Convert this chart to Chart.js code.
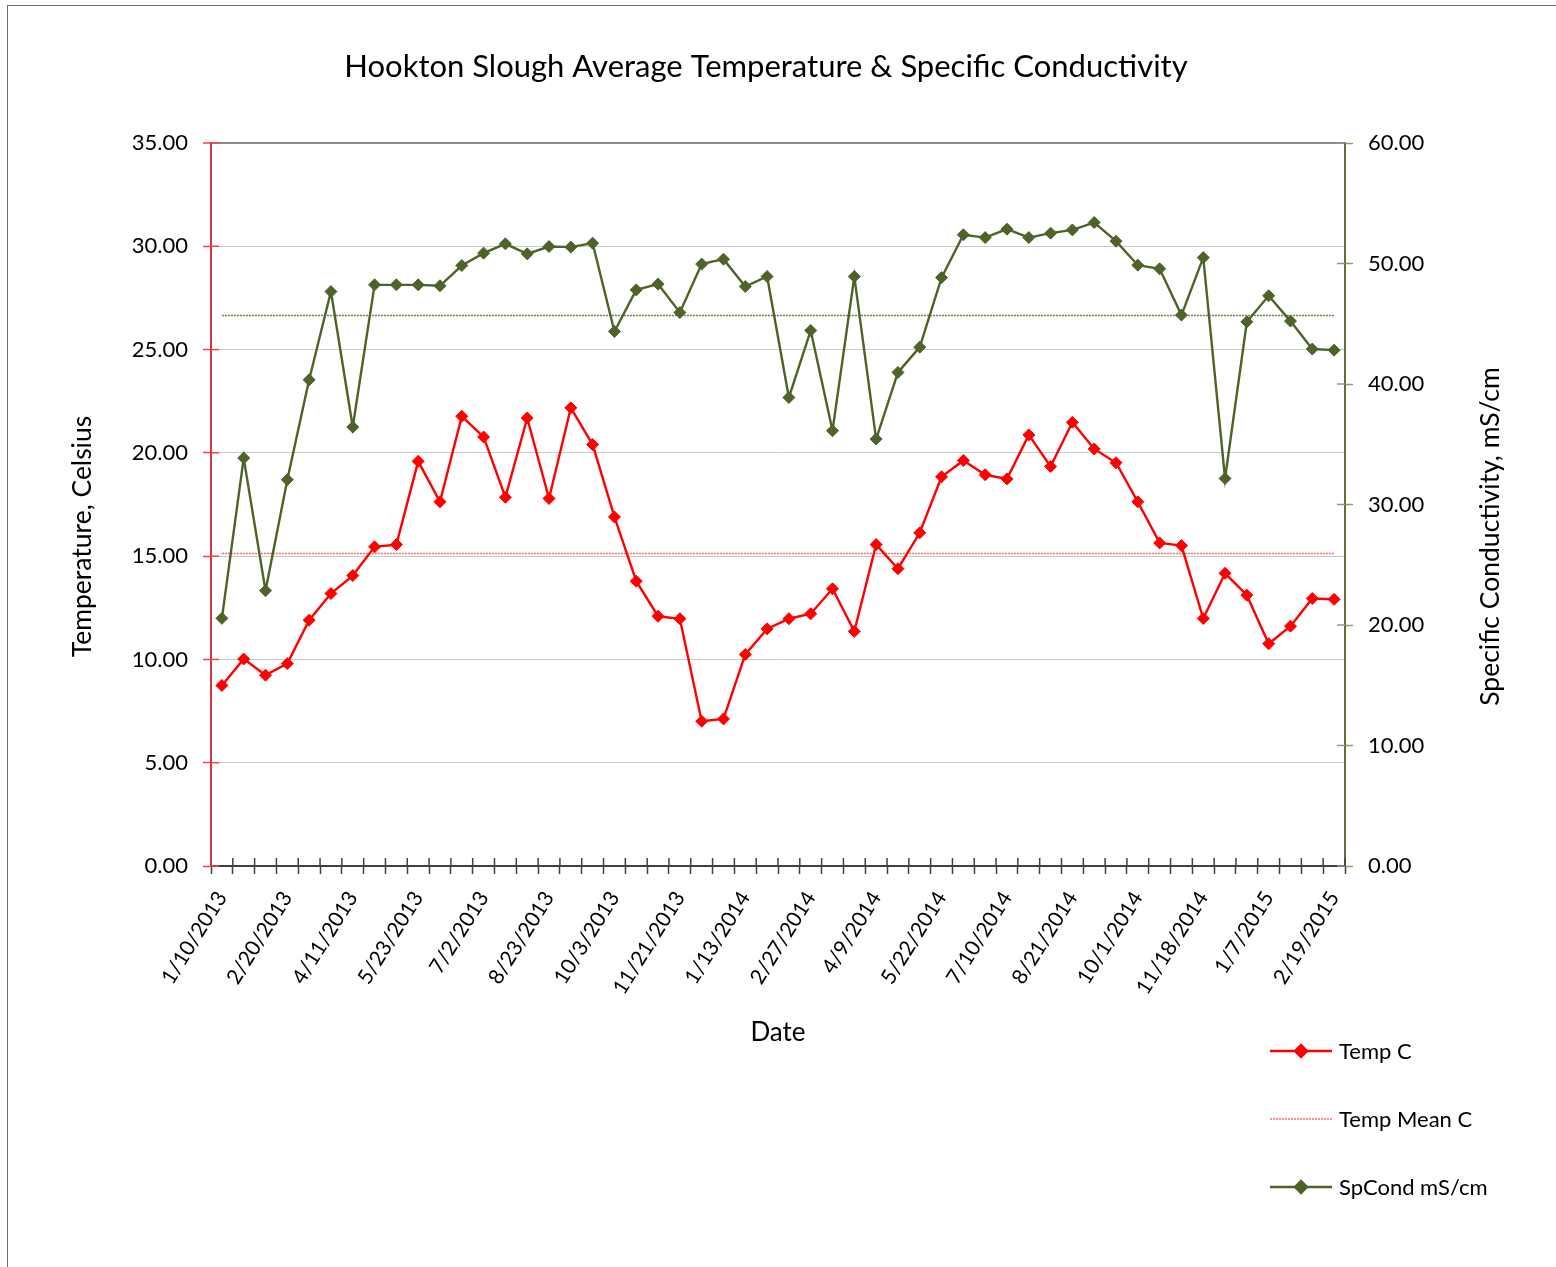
<!DOCTYPE html>
<html>
<head>
<meta charset="utf-8">
<title>Hookton Slough Average Temperature &amp; Specific Conductivity</title>
<script src="https://cdn.jsdelivr.net/npm/chart.js@4.4.1/dist/chart.umd.min.js"></script>
<style>
  html, body { margin: 0; padding: 0; background: #fff; overflow: hidden; }
  #wrap { position: relative; width: 1556px; height: 1267px; }
  #frame { position: absolute; left: 7px; top: 5px; width: 1600px; height: 1300px; border: 1px solid #6e6e6e; pointer-events: none; }
</style>
</head>
<body>
<div id="wrap">
  <canvas id="chart" width="1556" height="1267"></canvas>
  <div id="frame"></div>
</div>
<script>
// Hookton Slough sonde averages, one value per sampling date

const FONT = "Lato, 'Open Sans', sans-serif";
const TITLE = "Hookton Slough Average Temperature & Specific Conductivity";

// only every third date is printed on the axis
const tickLabels = [
  "1/10/2013", "2/20/2013", "4/11/2013", "5/23/2013", "7/2/2013", "8/23/2013",
  "10/3/2013", "11/21/2013", "1/13/2014", "2/27/2014", "4/9/2014", "5/22/2014",
  "7/10/2014", "8/21/2014", "10/1/2014", "11/18/2014", "1/7/2015", "2/19/2015",
];

const tempC = [
  8.74, 10.02, 9.24, 9.80, 11.90, 13.19, 14.06, 15.45, 15.56, 19.59,
  17.63, 21.77, 20.77, 17.85, 21.69, 17.79, 22.18, 20.40, 16.90, 13.79,
  12.09, 11.97, 7.01, 7.12, 10.24, 11.48, 11.97, 12.21, 13.42, 11.36,
  15.56, 14.39, 16.13, 18.84, 19.63, 18.94, 18.74, 20.87, 19.34, 21.48,
  20.19, 19.52, 17.63, 15.64, 15.51, 11.98, 14.17, 13.11, 10.76, 11.61,
  12.95, 12.91,
];

const spCond = [
  20.55, 33.86, 22.85, 32.06, 40.35, 47.67, 36.43, 48.23, 48.23, 48.23,
  48.15, 49.83, 50.86, 51.63, 50.80, 51.41, 51.36, 51.69, 44.36, 47.81,
  48.29, 45.93, 49.95, 50.36, 48.09, 48.92, 38.88, 44.44, 36.12, 48.92,
  35.43, 40.96, 43.06, 48.83, 52.38, 52.15, 52.85, 52.15, 52.52, 52.79,
  53.40, 51.85, 49.86, 49.56, 45.72, 50.49, 32.16, 45.16, 47.32, 45.22,
  42.90, 42.81,
];

const tempMean = 15.13;
const spCondMean = 45.68;

const RED = "#ff0000";
const GREEN = "#4f6228";

const categories = tempC.map((_, i) => (i % 3 === 0 ? tickLabels[i / 3] : ""));

// Excel style tick marks cross the axis line: draw the inner half here
const crossTicks = {
  id: "crossTicks",
  afterDraw(chart) {
    const { ctx, chartArea, scales } = chart;
    const len = 8;
    ctx.save();
    ctx.lineWidth = 1.5;
    ctx.strokeStyle = "#ff4040";
    scales.y.ticks.forEach((t) => {
      const y = scales.y.getPixelForValue(t.value);
      ctx.beginPath(); ctx.moveTo(chartArea.left, y); ctx.lineTo(chartArea.left + len, y); ctx.stroke();
    });
    ctx.strokeStyle = "#8e9e70";
    scales.y1.ticks.forEach((t) => {
      const y = scales.y1.getPixelForValue(t.value);
      ctx.beginPath(); ctx.moveTo(chartArea.right - len, y); ctx.lineTo(chartArea.right, y); ctx.stroke();
    });
    ctx.strokeStyle = "#404040";
    const n = categories.length;
    for (let i = 1; i <= n; i++) {
      const x = chartArea.left + (i * (chartArea.right - chartArea.left)) / n;
      ctx.beginPath(); ctx.moveTo(x, chartArea.bottom - len); ctx.lineTo(x, chartArea.bottom); ctx.stroke();
    }
    ctx.restore();
  },
};

// chart title sits a little left of the plot centre, like the Excel original;
// both value-axis titles read bottom to top, a bit below the plot centre
const chartTexts = {
  id: "chartTexts",
  afterDraw(chart) {
    const { ctx, chartArea } = chart;
    const cx = (chartArea.left + chartArea.right) / 2;
    const cy = (chartArea.top + chartArea.bottom) / 2 + 32;
    ctx.save();
    ctx.fillStyle = "#000";
    ctx.textAlign = "center";
    ctx.textBaseline = "middle";
    ctx.font = `31px ${FONT}`;
    ctx.fillText(TITLE, cx - 12, chartArea.top - 76);
    ctx.font = `26.5px ${FONT}`;
    [[chartArea.left - 129, "Temperature, Celsius"], [chartArea.right + 145, "Specific Conductivity, mS/cm"]]
      .forEach(([x, text]) => {
        ctx.save();
        ctx.translate(x, cy);
        ctx.rotate(-Math.PI / 2);
        ctx.fillText(text, 0, 0);
        ctx.restore();
      });
    ctx.restore();
  },
};

const sideLegend = {
  id: "sideLegend",
  afterDraw(chart) {
    const { ctx, chartArea } = chart;
    const items = chart.data.datasets
      .filter((d) => d.legendRow !== undefined)
      .sort((a, b) => a.legendRow - b.legendRow);
    ctx.save();
    ctx.font = `22px ${FONT}`;
    ctx.textBaseline = "middle";
    items.forEach((ds, k) => {
      const y = chartArea.bottom + 185 + k * 68;
      const x0 = chartArea.right - 75;
      ctx.strokeStyle = ds.borderColor;
      ctx.lineWidth = ds.borderWidth;
      ctx.setLineDash(ds.borderDash || []);
      ctx.beginPath(); ctx.moveTo(x0, y); ctx.lineTo(x0 + 62, y); ctx.stroke();
      ctx.setLineDash([]);
      if (ds.pointRadius > 0) {
        ctx.fillStyle = ds.pointBackgroundColor;
        ctx.strokeStyle = ds.pointBorderColor;
        Chart.helpers.drawPoint(ctx, { pointStyle: "rectRot", radius: ds.pointRadius, rotation: 0, borderWidth: 1 }, x0 + 31, y);
      }
      ctx.fillStyle = "#000";
      ctx.fillText(ds.label, x0 + 69, y + 1);
    });
    ctx.restore();
  },
};

new Chart(document.getElementById("chart"), {
  type: "line",
  data: {
    labels: categories,
    datasets: [
      {
        label: "Temp C",
        data: tempC,
        yAxisID: "y",
        borderColor: RED,
        borderWidth: 2.4,
        pointStyle: "rectRot",
        pointRadius: 6,
        pointBackgroundColor: RED,
        pointBorderColor: RED,
        pointBorderWidth: 1,
        tension: 0,
        legendRow: 0,
      },
      {
        label: "SpCond mS/cm",
        data: spCond,
        yAxisID: "y1",
        borderColor: GREEN,
        borderWidth: 2.4,
        pointStyle: "rectRot",
        pointRadius: 6,
        pointBackgroundColor: GREEN,
        pointBorderColor: GREEN,
        pointBorderWidth: 1,
        tension: 0,
        legendRow: 2,
      },
      {
        label: "Temp Mean C",
        data: tempC.map(() => tempMean),
        yAxisID: "y",
        borderColor: "#ff6a6a",
        borderWidth: 1.6,
        borderDash: [2, 1],
        pointRadius: 0,
        legendRow: 1,
      },
      {
        label: "SpCond Mean",
        data: spCond.map(() => spCondMean),
        yAxisID: "y1",
        borderColor: "#6d8248",
        borderWidth: 1.6,
        borderDash: [2, 1],
        pointRadius: 0,
      },
    ],
  },
  options: {
    responsive: false,
    animation: false,
    layout: { padding: { left: 0, right: 0, top: 143, bottom: 200 } },
    plugins: {
      legend: { display: false },
      tooltip: { enabled: false },
      title: { display: false },
    },
    scales: {
      x: {
        type: "category",
        offset: true,
        afterFit: (s) => { s.height = 201; },
        grid: { drawOnChartArea: false, offset: true, tickLength: 8, tickColor: "#404040", tickWidth: 1.5 },
        border: { color: "#404040", width: 2 },
        ticks: {
          autoSkip: false,
          minRotation: 58,
          maxRotation: 58,
          padding: 13,
          color: "#000",
          font: { family: FONT, size: 21 },
        },
        title: {
          display: true,
          text: "Date",
          color: "#000",
          font: { family: FONT, size: 26 },
          padding: { top: 0, bottom: 19 },
        },
      },
      y: {
        position: "left",
        min: 0,
        max: 35,
        afterFit: (s) => { s.width = 211; },
        grid: {
          color: (c) => (c.tick && c.tick.value === 35 ? "#8c8c8c" : "#cacaca"),
          lineWidth: (c) => (c.tick && c.tick.value === 35 ? 2 : 1),
          tickLength: 8,
          tickColor: "#ff4040",
          tickWidth: 1.5,
        },
        border: { color: "#c83c3c", width: 2 },
        ticks: {
          stepSize: 5,
          padding: 15,
          color: "#000",
          font: { family: FONT, size: 22 },
          callback: (v) => v.toFixed(2),
        },
      },
      y1: {
        position: "right",
        min: 0,
        max: 60,
        afterFit: (s) => { s.width = 211; },
        grid: { drawOnChartArea: false, tickLength: 8, tickColor: "#8e9e70", tickWidth: 1.5 },
        border: { color: "#5f7040", width: 2 },
        ticks: {
          stepSize: 10,
          padding: 15,
          color: "#000",
          font: { family: FONT, size: 22 },
          callback: (v) => v.toFixed(2),
        },
      },
    },
  },
  plugins: [crossTicks, chartTexts, sideLegend],
});
</script>
</body>
</html>
